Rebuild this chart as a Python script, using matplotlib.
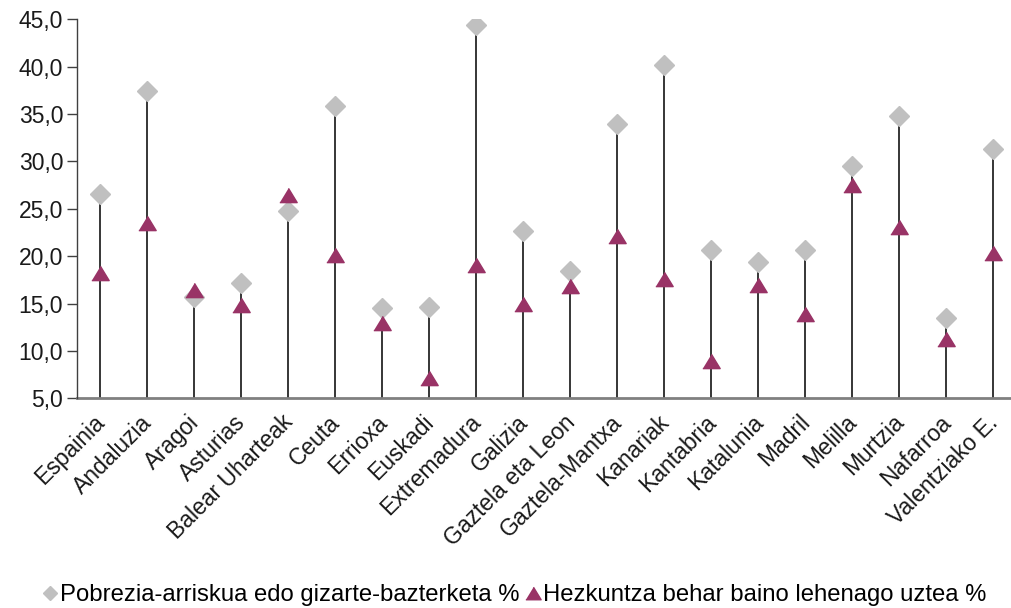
import numpy as np
import matplotlib as mpl; mpl.use("Agg")
import matplotlib.pyplot as plt
from matplotlib.ticker import FuncFormatter
from matplotlib.lines import Line2D
from matplotlib.transforms import ScaledTranslation

mpl.rcParams.update({
    "font.family": ["Liberation Sans", "DejaVu Sans"],
    "font.size": 16.5,
})

GREY_D = "#c0c0c0"
MAROON = "#993366"
AXIS_GREY = "#808080"
TXT = "#1a1a1a"

# ── Data ───────────────────────────────────────────────────────────────────────
regions = ["Espainia", "Andaluzia", "Aragoi", "Asturias", "Balear Uharteak",
           "Ceuta", "Errioxa", "Euskadi", "Extremadura", "Galizia",
           "Gaztela eta Leon", "Gaztela-Mantxa", "Kanariak", "Kantabria",
           "Katalunia", "Madril", "Melilla", "Murtzia", "Nafarroa",
           "Valentziako E."]
pobrezia = [26.6, 37.4, 15.7, 17.2, 24.8, 35.9, 14.5, 14.6, 44.4, 22.7,
            18.4, 34.0, 40.2, 20.7, 19.4, 20.7, 29.5, 34.8, 13.5, 31.3]
hezkuntza = [18.2, 23.5, 16.4, 14.8, 26.5, 20.1, 12.9, 7.1, 19.1, 14.9,
             16.8, 22.1, 17.6, 8.9, 17.0, 13.9, 27.5, 23.1, 11.3, 20.3]
yticks = [5, 10, 15, 20, 25, 30, 35, 40, 45]

label_d = "Pobrezia-arriskua edo gizarte-bazterketa %"
label_t = "Hezkuntza behar baino lehenago uztea %"

# ── Figure ─────────────────────────────────────────────────────────────────────
W, H = 1011, 608
fig = plt.figure(figsize=(W / 100, H / 100), dpi=100)
ax = fig.add_axes([77 / W, 1 - 398.3 / H, 940 / W, 379 / H])

x = np.arange(len(regions))
top = np.maximum(pobrezia, hezkuntza)
ax.vlines(x, 5, top, color="black", lw=1.1, zorder=1)

# wide, short triangle (reference is horizontally stretched)
tri = [(-1, -0.82), (1, -0.82), (0, 0.82)]
ax.plot(x, pobrezia, ls="none", marker="D", ms=10.5, mfc=GREY_D, mec=GREY_D,
        zorder=3)
ax.plot(x, hezkuntza, ls="none", marker=tri, ms=12.5, mfc=MAROON, mec=MAROON,
        zorder=4)

ax.set_xlim(-0.49, 19.5)
ax.set_ylim(5, 45)
ax.set_yticks(yticks)
ax.yaxis.set_major_formatter(FuncFormatter(lambda v, p: f"{v:.1f}".replace(".", ",")))
ax.tick_params(axis="y", length=7, width=1, color="#404040", pad=3,
               labelcolor=TXT)
ax.set_xticks(x)
ax.set_xticklabels(regions, rotation=45, ha="right", va="top",
                   rotation_mode="anchor", color=TXT)
ax.tick_params(axis="x", length=0, pad=9)
shift = ScaledTranslation(-7 / 100, 0, fig.dpi_scale_trans)
for lbl in ax.get_xticklabels():
    lbl.set_transform(lbl.get_transform() + shift)

for s in ("top", "right"):
    ax.spines[s].set_visible(False)
ax.spines["left"].set_color("#404040")
ax.spines["left"].set_linewidth(1)
ax.spines["bottom"].set_color(AXIS_GREY)
ax.spines["bottom"].set_linewidth(2)
ax.spines["left"].set_zorder(5)

handles = [
    Line2D([], [], ls="none", marker="D", ms=7.5, mfc=GREY_D, mec=GREY_D),
    Line2D([], [], ls="none", marker=tri, ms=11, mfc=MAROON, mec=MAROON),
]
fig.legend(handles, [label_d, label_t], loc="center",
           bbox_to_anchor=(0.509, 1 - 595 / H), ncol=2, frameon=False,
           handlelength=0.6, handletextpad=0.1, columnspacing=0.3,
           fontsize=17.2)

fig.savefig("out.png", dpi=100, facecolor="white")
